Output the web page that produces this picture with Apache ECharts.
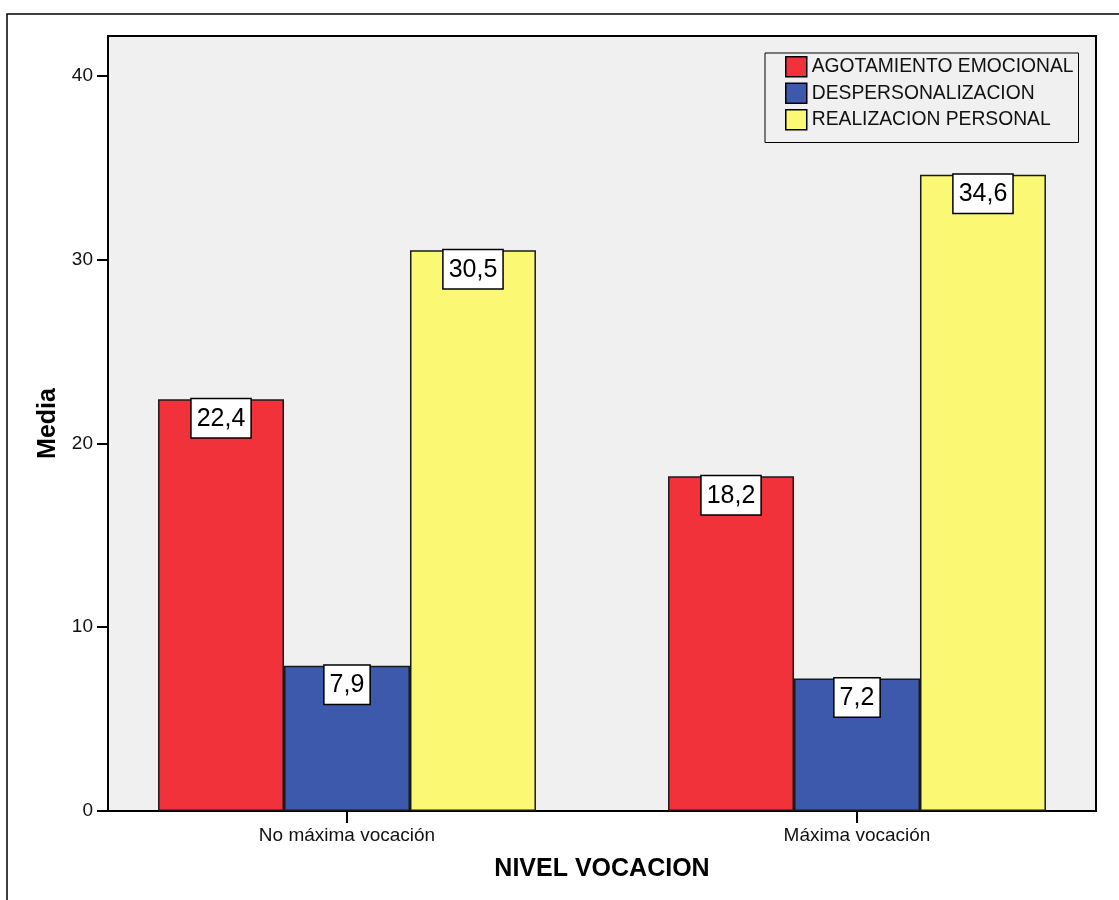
<!DOCTYPE html>
<html>
<head>
<meta charset="utf-8">
<script src="https://cdn.jsdelivr.net/npm/echarts@6/dist/echarts.min.js"></script>
<style>
  html, body { margin: 0; padding: 0; background: #fff; }
  #chart { width: 1119px; height: 900px; }
</style>
</head>
<body>
<div id="chart"></div>
<script>
const categories = ['No máxima vocación', 'Máxima vocación'];
const seriesNames = ['AGOTAMIENTO EMOCIONAL', 'DESPERSONALIZACION', 'REALIZACION PERSONAL'];
const agotamiento = [22.4, 18.2];
const despersonalizacion = [7.9, 7.2];
const realizacion = [30.5, 34.6];
const yTicks = [0, 10, 20, 30, 40];
const colors = ['#F1323B', '#3D59AB', '#FBF873'];

const FONT = '"Liberation Sans", Arial, sans-serif';
const chart = echarts.init(document.getElementById('chart'));

const values = [agotamiento, despersonalizacion, realizacion];
const series = seriesNames.map((name, i) => ({
  name: name,
  type: 'bar',
  data: values[i],
  barGap: '0%',
  barCategoryGap: '25.9%',
  itemStyle: { color: colors[i], borderColor: '#1a1a1a', borderWidth: 1.5 },
  emphasis: { disabled: true },
  label: {
    show: true,
    position: 'insideTop',
    distance: 0,
    formatter: p => p.value.toFixed(1).replace('.', ','),
    fontFamily: FONT,
    fontSize: 25,
    lineHeight: 25,
    color: '#000',
    backgroundColor: '#fff',
    borderColor: '#000',
    borderWidth: 1.5,
    padding: [7, 5, 6, 5]
  }
}));

chart.setOption({
  animation: false,
  backgroundColor: '#fff',
  textStyle: { fontFamily: FONT },
  graphic: [
    { type: 'rect', z: -10, shape: { x: 7, y: 14, width: 1300, height: 1000 },
      style: { fill: '#fff', stroke: '#000', lineWidth: 1.5 } },
    { type: 'rect', z: -5, shape: { x: 108, y: 36, width: 988, height: 775 },
      style: { fill: '#F0F0F0', stroke: '#000', lineWidth: 2 } }
  ],
  grid: { left: 92, right: 7, top: 36, bottom: 89, containLabel: false },
  legend: {
    data: seriesNames,
    orient: 'vertical',
    left: 765,
    top: 53,
    padding: [3, 5, 12, 20],
    itemWidth: 21,
    itemHeight: 20,
    itemGap: 5,
    icon: 'rect',
    backgroundColor: '#F0F0F0',
    borderColor: '#000',
    borderWidth: 1,
    textStyle: { fontFamily: FONT, fontSize: 19.3, color: '#111' },
    itemStyle: { borderColor: '#000', borderWidth: 1.5 }
  },
  xAxis: {
    type: 'category',
    data: categories,
    axisLine: { show: false },
    axisTick: { show: true, alignWithLabel: true, length: 12, lineStyle: { color: '#000', width: 2 } },
    axisLabel: { fontFamily: FONT, fontSize: 19, color: '#111', margin: 15 },
    name: 'NIVEL VOCACION',
    nameLocation: 'middle',
    nameGap: 46,
    nameTextStyle: { fontFamily: FONT, fontSize: 25, fontWeight: 'bold', color: '#000' },
    splitLine: { show: false }
  },
  yAxis: {
    type: 'value',
    min: 0,
    max: 42.15,
    interval: 10,
    offset: -16,
    axisLine: { show: false },
    axisTick: { show: true, length: 11, customValues: yTicks, lineStyle: { color: '#000', width: 2 } },
    axisLabel: { customValues: yTicks, fontFamily: FONT, fontSize: 19, color: '#111', margin: 15 },
    splitLine: { show: false },
    name: 'Media',
    nameLocation: 'middle',
    nameGap: 38,
    nameTextStyle: { fontFamily: FONT, fontSize: 25, fontWeight: 'bold', color: '#000' }
  },
  series: series
});
</script>
</body>
</html>
